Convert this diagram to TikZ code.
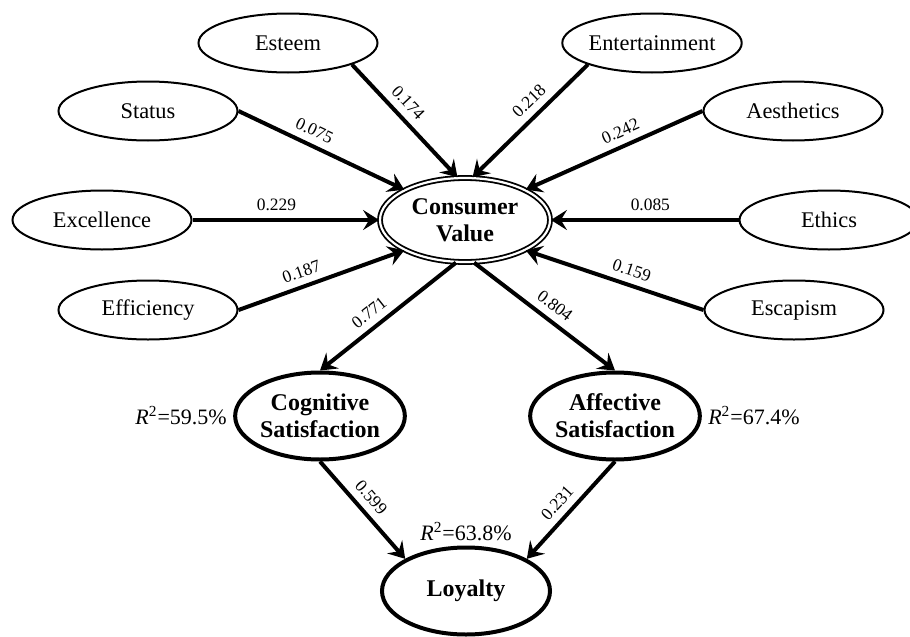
\documentclass[tikz,border=0pt]{standalone}
\usepackage{fontspec}
\setmainfont{Liberation Serif}
\usetikzlibrary{arrows.meta,positioning,shapes.geometric}

\begin{document}
\begin{tikzpicture}[x=0.5pt, y=-0.5pt,
  dimnode/.style = {ellipse, draw, line width=1pt, minimum width=89.5pt, minimum height=29.5pt, inner sep=0pt, font=\fontsize{11.2}{13}\selectfont},
  keynode/.style = {ellipse, draw, double, line width=0.9pt, double distance=1.1pt, minimum width=85pt, minimum height=42pt, inner sep=0pt, align=center, font=\fontsize{12}{13.5}\selectfont\bfseries},
  outcome/.style = {ellipse, draw, line width=2pt, minimum width=84pt, minimum height=43.5pt, inner sep=0pt, align=center, font=\fontsize{12}{13.5}\selectfont\bfseries},
  link/.style = {line width=2pt, -{Stealth[length=8pt, width=10pt, inset=3pt]}},
  coef/.style = {sloped, above=2.5pt, inner sep=1pt, font=\fontsize{8.7}{10}\selectfont},
  rsq/.style = {inner sep=2pt, font=\fontsize{11}{13}\selectfont}]
\useasboundingbox (0,0) rectangle (910,637);

% value dimensions
\node[dimnode] (esteem) at (288,43) {Esteem};
\node[dimnode] (entertain) at (652,43) {Entertainment};
\node[dimnode] (status) at (148,111) {Status};
\node[dimnode] (aesth) at (793,111) {Aesthetics};
\node[dimnode] (excel) at (102,220) {Excellence};
\node[dimnode] (ethics) at (829,220) {Ethics};
\node[dimnode] (effic) at (148,310) {Efficiency};
\node[dimnode] (escap) at (794,310) {Escapism};

\node[keynode] (cv) at (465,220) {Consumer\\Value};
\node[outcome] (cog) at (320,416) {Cognitive\\Satisfaction};
\node[outcome] (aff) at (615,416) {Affective\\Satisfaction};
\node[outcome] (loyal) at (466,591) {Loyalty};

\node[rsq, left=1pt of cog] (rcog) {\textit{R}\textsuperscript{2}=59.5\%};
\node[rsq, right=1pt of aff] (raff) {\textit{R}\textsuperscript{2}=67.4\%};
\node[rsq, above=0pt of loyal] (rloyal) {\textit{R}\textsuperscript{2}=63.8\%};

\draw[link] (esteem.south east) -- (cv.100) node[coef, pos=0.43] {0.174};
\draw[link] (entertain.south west) -- (cv.80) node[coef, pos=0.42] {0.218};
\draw[link] (status.east) -- (cv.north west) node[coef, pos=0.42] {0.075};
\draw[link] (aesth.west) -- (cv.north east) node[coef, pos=0.43] {0.242};
\draw[link] (excel.east) -- (cv.west) node[coef, pos=0.45] {0.229};
\draw[link] (ethics.west) -- (cv.east) node[coef, pos=0.47] {0.085};
\draw[link] (effic.east) -- (cv.south west) node[coef, pos=0.41] {0.187};
\draw[link] (escap.west) -- (cv.south east) node[coef, pos=0.43] {0.159};

\draw[link] (cv.258) -- (cog.north) node[coef, pos=0.57] {0.771};
\draw[link] (cv.282) -- (aff.north) node[coef, pos=0.51] {0.804};
\draw[link] (cog.south) -- (loyal.north west) node[coef, pos=0.47] {0.599};
\draw[link] (aff.south) -- (loyal.north east) node[coef, pos=0.53] {0.231};
\end{tikzpicture}
\end{document}
